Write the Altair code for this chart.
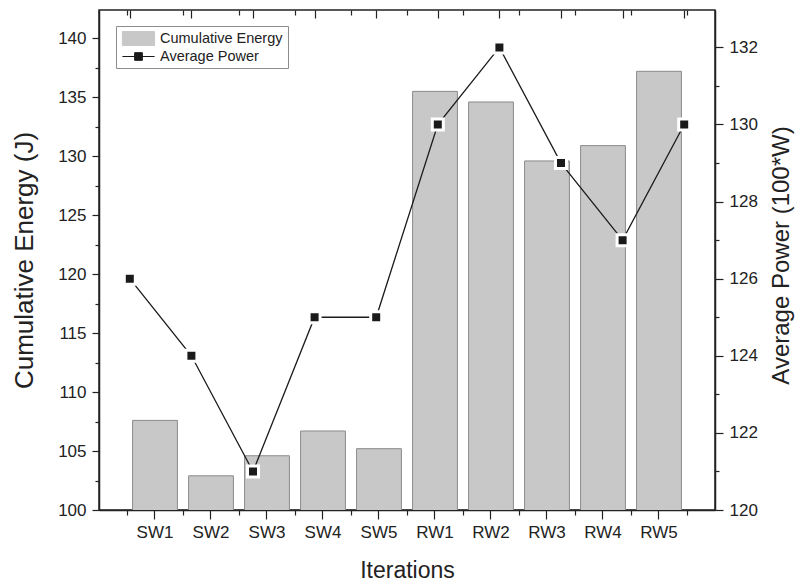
import altair as alt
import pandas as pd

# ---------------- data ----------------
iterations = ["SW1", "SW2", "SW3", "SW4", "SW5", "RW1", "RW2", "RW3", "RW4", "RW5"]
energy = [107.6, 102.9, 104.6, 106.7, 105.2, 135.5, 134.6, 129.6, 130.9, 137.2]
power = [126, 124, 121, 125, 125, 130, 132, 129, 127, 130]

energy_major_ticks = [100, 105, 110, 115, 120, 125, 130, 135, 140]
energy_minor_ticks = [102.5, 107.5, 112.5, 117.5, 122.5, 127.5, 132.5, 137.5]
power_major_ticks = [120, 122, 124, 126, 128, 130, 132]
power_minor_ticks = [121, 123, 125, 127, 129, 131]

series_names = ["Cumulative Energy", "Average Power"]

df = pd.DataFrame({"Iteration": iterations, "Energy": energy, "Power": power})

FONT = "Liberation Sans"
TXT = "#222222"
W, H = 616, 500

x_band = alt.Scale(domain=iterations, paddingInner=0.2, paddingOuter=0.6)
x_edge = alt.Scale(domain=iterations, paddingInner=0, paddingOuter=0.5)
y_energy = alt.Scale(domain=[100, 142.4], nice=False, zero=False)
y_power = alt.Scale(domain=[120, 132.97], nice=False, zero=False)
color_scale = alt.Scale(domain=series_names, range=["#c8c8c8", "#1a1a1a"])

legend = alt.Legend(
    orient="none", legendX=17, legendY=16, title=None, direction="vertical",
    fillColor="white", strokeColor="#8c8c8c", padding=5,
    labelFont=FONT, labelFontSize=14.5, labelColor=TXT,
    symbolSize=196, symbolOffset=10, labelOffset=14, rowPadding=0,
    symbolStrokeWidth=1, symbolOpacity=1,
    symbolType=alt.ExprRef(expr="datum.value === 'Average Power' ? 'M-2.3,0H2.3M-0.55,-0.55H0.55V0.55H-0.55Z' : 'M-2.3,-1H2.3V1H-2.3Z'"),
    symbolFillColor=alt.ExprRef(expr="datum.value === 'Average Power' ? '#000000' : '#c8c8c8'"),
    symbolStrokeColor=alt.ExprRef(expr="datum.value === 'Average Power' ? '#222222' : '#8c8c8c'"),
)

color_energy = alt.Color("series:N", scale=color_scale, legend=legend)
color_power = alt.Color("series:N", scale=color_scale, legend=legend)

base = alt.Chart(df)

tick_style = dict(tickColor=TXT, tickWidth=1.2, domainColor=TXT, domainWidth=1.5,
                  labelFont=FONT, labelColor=TXT, titleFont=FONT, titleColor=TXT,
                  titleFontWeight="normal", grid=False)

bars = base.transform_calculate(series="'Cumulative Energy'").mark_bar(
    stroke="#8a8a8a", strokeWidth=1, clip=True
).encode(
    x=alt.X("Iteration:N", sort=iterations, scale=x_band,
            axis=alt.Axis(orient="bottom", title="Iterations", labelAngle=0,
                          tickSize=9, labelFontSize=17, labelPadding=5,
                          titleFontSize=23, titleY=60, titleBaseline="middle",
                          **tick_style)),
    y=alt.Y("Energy:Q", scale=y_energy,
            axis=alt.Axis(orient="left", values=energy_major_ticks, title="Cumulative Energy (J)",
                          tickSize=7, labelFontSize=17, labelPadding=6,
                          titleFontSize=26, titleX=-75, titleY=250, titleAngle=270,
                          titleAlign="center", titleBaseline="middle", **tick_style)),
    color=color_energy,
)

line = base.transform_calculate(series="'Average Power'").mark_line(strokeWidth=1.3).encode(
    x=alt.X("Iteration:N", sort=iterations, scale=x_band, axis=None),
    y=alt.Y("Power:Q", scale=y_power,
            axis=alt.Axis(orient="right", values=power_major_ticks, title="Average Power (100*W)",
                          tickSize=8, labelFontSize=17, labelPadding=6,
                          titleFontSize=24, titleX=66, titleY=245, titleAngle=270,
                          titleAlign="center", titleBaseline="middle", **tick_style)),
    color=color_power,
)

points = base.transform_calculate(series="'Average Power'").mark_point(
    shape="square", filled=True, size=121, stroke="white", strokeWidth=3, opacity=1
).encode(
    x=alt.X("Iteration:N", sort=iterations, scale=x_band, axis=None),
    y=alt.Y("Power:Q", scale=y_power, axis=None),
    color=color_power,
)

minor_style = dict(labels=False, title=None, domain=False, tickColor=TXT, tickWidth=1.2, grid=False)

left_minor = base.mark_point(opacity=0).encode(
    y=alt.Y("Energy:Q", scale=y_energy,
            axis=alt.Axis(orient="left", values=energy_minor_ticks, tickSize=4, **minor_style)),
)

right_minor = base.mark_point(opacity=0).encode(
    y=alt.Y("Power:Q", scale=y_power,
            axis=alt.Axis(orient="right", values=power_minor_ticks, tickSize=4, **minor_style)),
)

bottom_minor = base.mark_point(opacity=0).encode(
    x=alt.X("Iteration:N", sort=iterations, scale=x_edge,
            axis=alt.Axis(orient="bottom", tickBand="extent", tickSize=5, **minor_style)),
)

top_major = base.mark_point(opacity=0).encode(
    x=alt.X("Iteration:N", sort=iterations, scale=x_band,
            axis=alt.Axis(orient="top", offset=-8, tickSize=8, **minor_style)),
)

top_minor = base.mark_point(opacity=0).encode(
    x=alt.X("Iteration:N", sort=iterations, scale=x_edge,
            axis=alt.Axis(orient="top", offset=-5, tickBand="extent", tickSize=5, **minor_style)),
)

chart = alt.layer(
    bars, line, points, left_minor, right_minor, bottom_minor, top_major, top_minor
).resolve_scale(
    x="independent", y="independent"
).properties(
    width=W, height=H,
    padding={"left": 99, "top": 10, "right": 80, "bottom": 72},
    autosize=alt.AutoSizeParams(type="none"),
).configure(
    font=FONT, background="white"
).configure_view(
    stroke=TXT, strokeWidth=1.5
)

chart.save("out.html", embed_options={"renderer": "svg", "actions": False})
